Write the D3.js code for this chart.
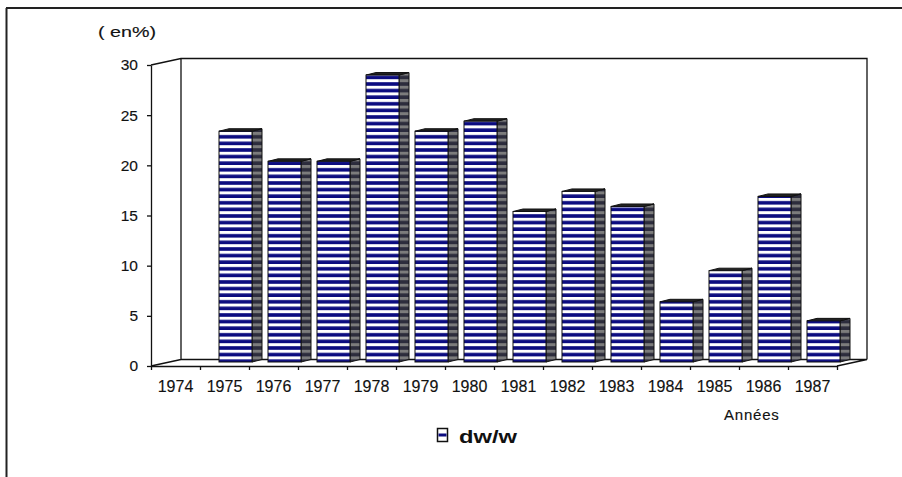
<!DOCTYPE html>
<html>
<head>
<meta charset="utf-8">
<script src="https://cdn.jsdelivr.net/npm/d3@7"></script>
<style>
  body { margin: 0; background: #fff; }
  svg { display: block; font-family: "Liberation Sans", Arial, sans-serif; }
</style>
</head>
<body>
<svg id="chart" width="902" height="477"></svg>
<script>
// Yearly growth of dw/w, in percent
const years = ["1974", "1975", "1976", "1977", "1978", "1979", "1980",
               "1981", "1982", "1983", "1984", "1985", "1986", "1987"];
const growth = [0, 23, 20, 20, 28.6, 23, 24, 15, 17, 15.5, 6, 9.1, 16.5, 4.1];
const yTicks = [0, 5, 10, 15, 20, 25, 30];
const seriesName = "dw/w";
const unitLabel = "( en%)";
const xTitle = "Années";

const svg = d3.select("#chart");
const navy = "#0c0c80";
const ink = "#111";
const labelFont = "Liberation Sans, Arial, sans-serif";

// Plot geometry: front floor edge from x0 to x1, back wall pushed by (depthX, depthY)
const x0 = 151, x1 = 837, yBase = 366, yTop = 65;
const depthX = 30, depthY = -6.5;

const x = d3.scaleBand().domain(years).range([x0, x1]);
const xEdge = d3.scaleLinear().domain([0, years.length]).range([x0, x1]);
const y = d3.scaleLinear().domain([0, 30]).range([yBase, yTop]);

// Stripe fills for bar faces
const period = 6.6, band = 3.6;
const defs = svg.append("defs");
const front = defs.append("pattern").attr("id", "stripeFront")
  .attr("patternUnits", "userSpaceOnUse").attr("width", 8).attr("height", period);
front.append("rect").attr("width", 8).attr("height", period).attr("fill", "#fff");
front.append("rect").attr("y", period - band).attr("width", 8).attr("height", band).attr("fill", navy);
const side = defs.append("pattern").attr("id", "stripeSide")
  .attr("patternUnits", "userSpaceOnUse").attr("width", 8).attr("height", period);
side.append("rect").attr("width", 8).attr("height", period).attr("fill", "#7c7c7c");
side.append("rect").attr("y", period - band).attr("width", 8).attr("height", band).attr("fill", "#2c2c3c");

// Outer frame (top and left edges)
svg.append("line").attr("x1", 6).attr("x2", 902).attr("y1", 8).attr("y2", 8)
  .attr("stroke", "#222").attr("stroke-width", 2);
svg.append("line").attr("x1", 6.5).attr("x2", 6.5).attr("y1", 8).attr("y2", 477)
  .attr("stroke", "#222").attr("stroke-width", 2);

// Back wall and floor outline
const wall = svg.append("g").attr("stroke", ink).attr("stroke-width", 1.3).attr("fill", "none");
const bx0 = x0 + depthX, bx1 = x1 + depthX;
const byTop = y(30) + depthY, byBase = y(0) + depthY;
wall.append("path").attr("d",
  `M${x0},${y(30)}L${bx0},${byTop}L${bx1},${byTop}L${bx1},${byBase}` +
  `M${bx0},${byTop}L${bx0},${byBase}L${bx1},${byBase}` +
  `M${x0},${y(0)}L${bx0},${byBase}M${x1},${y(0)}L${bx1},${byBase}`);

// Bars: front face, side face and top
const faceW = 33, sideW = 10, rise = 2.5;
const barShiftX = 19, barShiftY = -4;
const bars = svg.append("g").selectAll("g")
  .data(years.map((yr, i) => ({ yr, v: growth[i] })).filter(d => d.v > 0))
  .join("g");
bars.each(function (d) {
  const g = d3.select(this);
  const left = x(d.yr) + barShiftX;
  const top = y(d.v) + barShiftY;
  const bottom = y(0) + barShiftY;
  g.append("path")
    .attr("d", `M${left + faceW},${top}L${left + faceW + sideW},${top - rise}L${left + faceW + sideW},${bottom - rise}L${left + faceW},${bottom}Z`)
    .attr("fill", "url(#stripeSide)").attr("stroke", ink).attr("stroke-width", 1);
  g.append("path")
    .attr("d", `M${left},${top}L${left + sideW},${top - rise}L${left + faceW + sideW},${top - rise}L${left + faceW},${top}Z`)
    .attr("fill", "#222").attr("stroke", ink).attr("stroke-width", 1);
  g.append("rect")
    .attr("x", left).attr("y", top).attr("width", faceW).attr("height", bottom - top)
    .attr("fill", "url(#stripeFront)").attr("stroke", ink).attr("stroke-width", 1);
});

function styleLabels(sel, size) {
  sel.attr("font-size", size).attr("fill", ink).attr("font-family", labelFont)
    .attr("stroke", ink).attr("stroke-width", 0.15);
}

// Y axis
const yAxis = svg.append("g").attr("transform", `translate(${x0},0)`)
  .call(d3.axisLeft(y).tickValues(yTicks).tickSize(4).tickSizeOuter(0).tickPadding(9));
yAxis.select(".domain").attr("stroke", ink).attr("stroke-width", 1.3);
yAxis.selectAll(".tick line").attr("stroke", ink).attr("stroke-width", 1.3);
styleLabels(yAxis.selectAll("text"), 15.5);

// X axis: tick marks at category edges, labels centered in each category
const xTicks = svg.append("g").attr("transform", `translate(0,${y(0)})`)
  .call(d3.axisBottom(xEdge).tickValues(d3.range(years.length + 1)).tickFormat("").tickSize(4).tickSizeOuter(0));
xTicks.select(".domain").attr("stroke", ink).attr("stroke-width", 1.3);
xTicks.selectAll(".tick line").attr("stroke", ink).attr("stroke-width", 1.3);
const xLabels = svg.append("g").attr("transform", `translate(0,${y(0)})`)
  .call(d3.axisBottom(x).tickSize(0).tickPadding(15));
xLabels.select(".domain").remove();
styleLabels(xLabels.selectAll("text"), 16);

// Titles
styleLabels(svg.append("text").attr("x", 98).attr("y", 37)
  .attr("textLength", 58).attr("lengthAdjust", "spacingAndGlyphs").text(unitLabel), 15.5);
styleLabels(svg.append("text").attr("x", 724).attr("y", 420)
  .attr("letter-spacing", 0.8).text(xTitle), 15);

// Legend
const legend = svg.append("g");
legend.append("rect").attr("x", 437.5).attr("y", 428.5).attr("width", 10).attr("height", 13)
  .attr("fill", "#fff").attr("stroke", ink).attr("stroke-width", 1.5);
legend.append("rect").attr("x", 438.5).attr("y", 433.5).attr("width", 8).attr("height", 3)
  .attr("fill", navy);
legend.append("text").attr("x", 459).attr("y", 443).attr("font-size", 19).attr("font-weight", "bold")
  .attr("fill", ink).attr("textLength", 58).attr("lengthAdjust", "spacingAndGlyphs").text(seriesName);
</script>
</body>
</html>
